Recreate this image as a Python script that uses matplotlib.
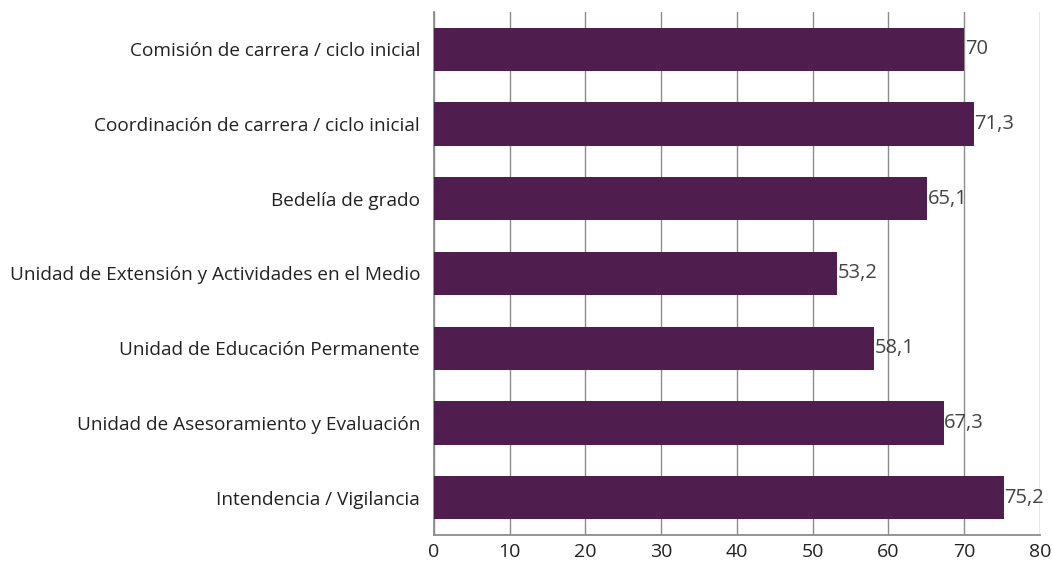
import matplotlib
matplotlib.use('Agg')
import matplotlib.pyplot as plt

categorias = [
    "Comisión de carrera / ciclo inicial",
    "Coordinación de carrera / ciclo inicial",
    "Bedelía de grado",
    "Unidad de Extensión y Actividades en el Medio",
    "Unidad de Educación Permanente",
    "Unidad de Asesoramiento y Evaluación",
    "Intendencia / Vigilancia",
]
valores = [70, 71.3, 65.1, 53.2, 58.1, 67.3, 75.2]
ticks_x = [0, 10, 20, 30, 40, 50, 60, 70, 80]

plt.rcParams['font.family'] = ['Open Sans', 'DejaVu Sans']

fig = plt.figure(figsize=(10.52, 5.67), dpi=100)
ax = fig.add_axes([0.4125, 0.0564, 0.5761, 0.9226])

pos = list(range(len(categorias)))[::-1]
bars = ax.barh(pos, valores, height=0.58, color='#4f1e4e', zorder=3)

for b, v in zip(bars, valores):
    txt = f"{v:g}".replace('.', ',')
    ax.text(b.get_width() + 0.05, b.get_y() + b.get_height() / 2, txt,
            va='center', ha='left', fontsize=14.5, color='#444444', zorder=4)

ax.set_yticks(pos)
ax.set_yticklabels(categorias, fontsize=13.7, color='#222222')
ax.set_xticks(ticks_x)
ax.set_xticklabels([str(t) for t in ticks_x], fontsize=14, color='#222222')
ax.set_xlim(0, 80)
ax.set_ylim(-0.5, 6.5)

ax.grid(axis='x', color='#8c8c8c', linewidth=1, zorder=0)
ax.tick_params(length=0, pad=6)
ax.tick_params(axis='y', pad=10)
for s in ['top', 'right']:
    ax.spines[s].set_visible(False)
for s in ['left', 'bottom']:
    ax.spines[s].set_color('#8c8c8c')
    ax.spines[s].set_linewidth(1.3)

fig.savefig('out.png', dpi=100)
